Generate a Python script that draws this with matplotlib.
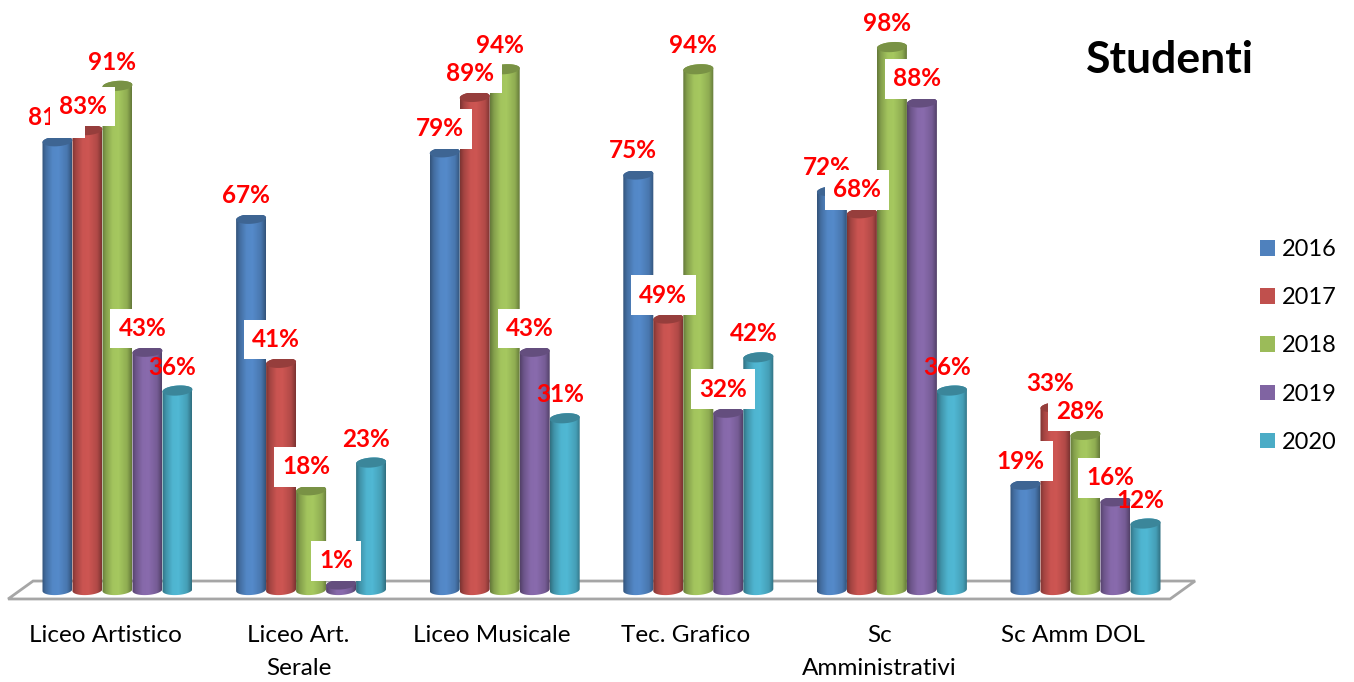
import numpy as np

import matplotlib
matplotlib.use('Agg')
import matplotlib.pyplot as plt
from matplotlib.patches import Patch, PathPatch, Polygon
from matplotlib.path import Path

categories = ['Liceo Artistico', 'Liceo Art.\nSerale', 'Liceo Musicale', 'Tec. Grafico', 'Sc\nAmministrativi', 'Sc Amm DOL']
years = ['2016', '2017', '2018', '2019', '2020']

values_2016 = [81, 67, 79, 75, 72, 19]
values_2017 = [83, 41, 89, 49, 68, 33]
values_2018 = [91, 18, 94, 94, 98, 28]
values_2019 = [43, 1, 43, 32, 88, 16]
values_2020 = [36, 23, 31, 42, 36, 12]
series = [values_2016, values_2017, values_2018, values_2019, values_2020]

# labels with no white box behind them: (year, category index)
unboxed_labels = [('2018', 0), ('2018', 2), ('2018', 3), ('2018', 4)] + [('2020', g) for g in range(6)]

colors = ['#4F81BD', '#C0504D', '#9BBB59', '#8064A2', '#4BACC6']

plt.rcParams['font.family'] = ['Lato', 'DejaVu Sans']

WIDTH, HEIGHT = 1354, 682
GROUP_PX = 193.6  # px per category
VALUE_PX = 5.54  # px per percent
AXES_BOTTOM_PX = 606
ZERO_PX = 590
FIRST_GROUP_PX = 117.5

BAR_STEP = 30 / GROUP_PX
BAR_HALF = 15 / GROUP_PX
CAP_HALF = 5 / VALUE_PX
CAP_TILT = 1.0 / VALUE_PX


def shade(color):
    """Horizontal shading of a cylinder, dark edges and a lighter middle."""
    base = np.array(matplotlib.colors.to_rgb(color))
    stops = [0, 0.12, 0.35, 0.55, 0.85, 1]
    factors = [0.66, 0.85, 1.05, 1.07, 0.92, 0.66]
    pos = np.linspace(0, 1, 32)
    ramp = np.interp(pos, stops, factors)
    return np.clip(ramp[None, :, None] * base[None, None, :], 0, 1)


def cap_xy(x, y, start=0, end=2 * np.pi):
    """Points along the (slightly tilted) ellipse at the end of a cylinder."""
    t = np.linspace(start, end, 40)
    return x + BAR_HALF * np.cos(t), y + CAP_HALF * np.sin(t) + CAP_TILT * np.cos(t)


def plot_cylinder(ax, x, value, color, zorder):
    """Draw one cylinder standing on the floor at x, up to value."""
    low_x, low_y = cap_xy(x, 0, np.pi, 2 * np.pi)
    top_x, top_y = cap_xy(x, value, 0, np.pi)
    outline = np.column_stack([np.r_[low_x, top_x], np.r_[low_y, top_y]])
    body = PathPatch(Path(np.vstack([outline, outline[:1]])), fc='none', ec='none', transform=ax.transData)
    ax.add_patch(body)

    im = ax.imshow(
        shade(color),
        extent=(x - BAR_HALF, x + BAR_HALF, -CAP_HALF * 2, value + CAP_HALF * 2),
        aspect='auto', interpolation='bilinear', zorder=zorder,
    )
    im.set_clip_path(body)

    cap_x, cap_y = cap_xy(x, value)
    dark = np.array(matplotlib.colors.to_rgb(color)) * 0.78
    ax.add_patch(Polygon(np.column_stack([cap_x, cap_y]), fc=dark, ec='none', zorder=zorder + 0.1))


def plot_label(ax, x, value, boxed, zorder):
    """Put the percentage above the bar, with a white box for most of them."""
    bbox = dict(fc='white', ec='none', boxstyle='square,pad=0.34') if boxed else None
    ax.annotate(
        f'{value}%', xy=(x, value),
        xytext=(-5, 23.5), textcoords='offset pixels',
        ha='center', va='center', fontsize=17.5, fontweight='bold', color='#FF0000',
        bbox=bbox, zorder=zorder,
    )


def setup_axis(ax):
    """Limits chosen so that the axes keeps the scale of the picture."""
    ax.set_xlim(-FIRST_GROUP_PX / GROUP_PX, (WIDTH - FIRST_GROUP_PX) / GROUP_PX)
    ax.set_ylim((ZERO_PX - AXES_BOTTOM_PX) / VALUE_PX, ZERO_PX / VALUE_PX)
    ax.set_yticks([])
    ax.set_xticks(np.arange(len(categories)) - 12.5 / GROUP_PX)
    ax.set_xticklabels(categories, fontsize=17.5, linespacing=1.72, color='black')
    ax.tick_params(axis='x', length=0, pad=13.5)
    for spine in ax.spines.values():
        spine.set_visible(False)

    # the floor of the 3D chart
    floor_x = [-0.565, -0.436, 5.566, 5.437]
    floor_y = [-1.62, 1.62, 1.62, -1.62]
    ax.add_patch(Polygon(np.column_stack([floor_x, floor_y]), closed=True, fc='white', ec='#A6A6A6', lw=2, zorder=1))


fig = plt.figure(figsize=(WIDTH / 100, HEIGHT / 100), dpi=100)
ax = fig.add_axes([0, (HEIGHT - AXES_BOTTOM_PX) / HEIGHT, 1, AXES_BOTTOM_PX / HEIGHT])

for s, (year, values, color) in enumerate(zip(years, series, colors)):
    for g, value in enumerate(values):
        plot_cylinder(ax, g + (s - 2) * BAR_STEP, value, color, 2 + s)

for s, (year, values) in enumerate(zip(years, series)):
    for g, value in enumerate(values):
        plot_label(ax, g + (s - 2) * BAR_STEP, value, (year, g) not in unboxed_labels, 10 + s)

setup_axis(ax)

handles = [Patch(fc=color, ec='none', label=year) for year, color in zip(years, colors)]
ax.legend(
    handles=handles, loc='center left', bbox_to_anchor=(1260 / WIDTH, (AXES_BOTTOM_PX - 346) / AXES_BOTTOM_PX),
    frameon=False, fontsize=17, handlelength=0.63, handleheight=0.63, handletextpad=0.3,
    labelspacing=1.15, borderpad=0, borderaxespad=0,
)

ax.text(1170 / WIDTH, (AXES_BOTTOM_PX - 60) / AXES_BOTTOM_PX, 'Studenti', transform=ax.transAxes,
        ha='center', va='center', fontsize=32, fontweight='bold', color='black')

fig.savefig('out.png', dpi=100)
